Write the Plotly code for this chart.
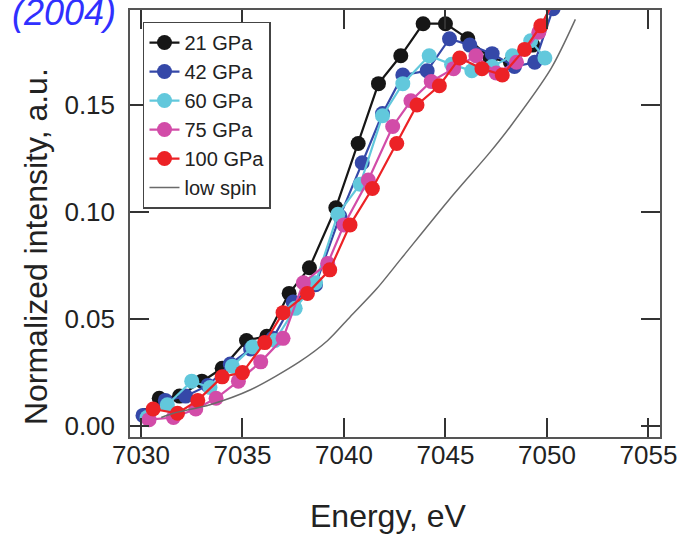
import plotly.graph_objects as go

# ---- data ----
e21 = [7030.2, 7030.9, 7031.9, 7033.0, 7034.0, 7035.2, 7036.2, 7037.3, 7038.3, 7039.6,
       7040.7, 7041.7, 7042.8, 7043.9, 7045.0, 7046.1, 7047.2, 7048.2, 7049.3, 7050.3]
i21 = [0.005, 0.013, 0.014, 0.021, 0.027, 0.040, 0.042, 0.062, 0.074, 0.102,
       0.132, 0.160, 0.173, 0.188, 0.188, 0.181, 0.172, 0.170, 0.178, 0.198]

e42 = [7030.1, 7031.2, 7032.2, 7033.3, 7034.4, 7035.4, 7036.5, 7037.5, 7038.6, 7039.8,
       7040.9, 7041.9, 7042.9, 7044.1, 7045.2, 7046.2, 7047.3, 7048.4, 7049.4, 7050.3]
i42 = [0.005, 0.012, 0.014, 0.019, 0.029, 0.036, 0.041, 0.058, 0.066, 0.098,
       0.123, 0.146, 0.164, 0.166, 0.181, 0.178, 0.174, 0.168, 0.170, 0.195]

e60 = [7030.3, 7031.3, 7032.5, 7033.4, 7034.5, 7035.5, 7036.6, 7037.6, 7038.6, 7039.7,
       7040.8, 7041.9, 7042.9, 7044.2, 7045.3, 7046.3, 7047.3, 7048.3, 7049.2, 7049.9]
i60 = [0.004, 0.010, 0.021, 0.018, 0.028, 0.037, 0.040, 0.055, 0.067, 0.099,
       0.113, 0.145, 0.160, 0.173, 0.169, 0.166, 0.168, 0.173, 0.180, 0.172]

e75 = [7030.4, 7031.6, 7032.7, 7033.7, 7034.8, 7035.9, 7037.0, 7038.0, 7039.2, 7040.0,
       7041.2, 7042.4, 7043.3, 7044.3, 7045.4, 7046.5, 7047.5, 7048.5, 7049.6, 7050.3]
i75 = [0.003, 0.004, 0.008, 0.013, 0.021, 0.030, 0.041, 0.067, 0.076, 0.094,
       0.115, 0.140, 0.152, 0.161, 0.167, 0.173, 0.165, 0.170, 0.184, 0.198]

e100 = [7030.6, 7031.8, 7032.8, 7034.0, 7035.0, 7036.1, 7037.0, 7038.2, 7039.3, 7040.3,
        7041.4, 7042.6, 7043.6, 7044.7, 7045.7, 7046.8, 7047.8, 7048.9, 7049.7, 7050.3]
i100 = [0.008, 0.006, 0.012, 0.023, 0.025, 0.039, 0.053, 0.062, 0.073, 0.094,
        0.111, 0.132, 0.150, 0.159, 0.172, 0.167, 0.164, 0.176, 0.187, 0.198]

e_ls = [7031.0, 7031.6, 7033.4, 7035.4, 7037.8, 7039.2, 7040.3, 7041.6, 7042.8,
        7045.2, 7047.2, 7048.2, 7050.2, 7051.4]
i_ls = [0.004, 0.006, 0.010, 0.017, 0.030, 0.040, 0.051, 0.064, 0.078,
        0.106, 0.128, 0.140, 0.167, 0.190]

x_ticks = [7030, 7035, 7040, 7045, 7050, 7055]
y_ticks = [0.00, 0.05, 0.10, 0.15]

series = [
    ("21 GPa", e21, i21, "#161616"),
    ("42 GPa", e42, i42, "#3548a8"),
    ("60 GPa", e60, i60, "#62c8dc"),
    ("75 GPa", e75, i75, "#d24ca8"),
    ("100 GPa", e100, i100, "#ec2226"),
]

fig = go.Figure()
for name, xs, ys, col in series:
    fig.add_trace(go.Scatter(
        x=xs, y=ys, name=name, mode="lines+markers",
        line=dict(color=col, width=2.2),
        marker=dict(color=col, size=15, line=dict(width=0)),
    ))
fig.add_trace(go.Scatter(
    x=e_ls, y=i_ls, name="low spin", mode="lines",
    line=dict(color="#6a6a6a", width=1.5, shape="spline", smoothing=0.8),
))

axis_common = dict(
    showgrid=False, zeroline=False, showline=True, mirror="ticks",
    linecolor="#555555", linewidth=1.5, ticks="inside", ticklen=19,
    tickwidth=1.5, tickcolor="#333333",
    tickfont=dict(family="Liberation Sans, Arial, sans-serif", size=26, color="#222222"),
)

fig.update_layout(
    width=693, height=538, autosize=False,
    margin=dict(l=130, r=33, t=8, b=101),
    paper_bgcolor="white", plot_bgcolor="white",
    font=dict(family="Liberation Sans, Arial, sans-serif", color="#222222"),
    xaxis=dict(range=[7029.46, 7055.57], tickvals=x_ticks,
               ticktext=[str(v) for v in x_ticks], ticklabelstandoff=-6, **axis_common),
    yaxis=dict(range=[-0.0051, 0.1944], tickvals=y_ticks,
               ticktext=["%.2f" % v for v in y_ticks], ticklabelstandoff=8, **axis_common),
    legend=dict(
        x=0.0245, y=0.973, xanchor="left", yanchor="top",
        bgcolor="white", bordercolor="#444444", borderwidth=1.5,
        font=dict(size=20, color="#222222"),
        itemwidth=30, tracegroupgap=0,
    ),
    showlegend=True,
    annotations=[
        dict(text="Energy, eV", xref="paper", yref="paper", x=0.487, y=-0.184,
             xanchor="center", yanchor="middle", showarrow=False,
             font=dict(size=32, color="#222222")),
        dict(text="Normalized intensity, a.u.", xref="paper", yref="paper",
             x=-0.1774, y=0.447, xanchor="center", yanchor="middle", textangle=-90,
             showarrow=False, font=dict(size=32, color="#222222")),
        dict(text="(2004)", xref="paper", yref="paper", x=-0.2264, y=0.9953,
             xanchor="left", yanchor="middle", showarrow=False,
             font=dict(size=36, color="#3030ff", style="italic")),
    ],
)

fig.write_html("out.html")
